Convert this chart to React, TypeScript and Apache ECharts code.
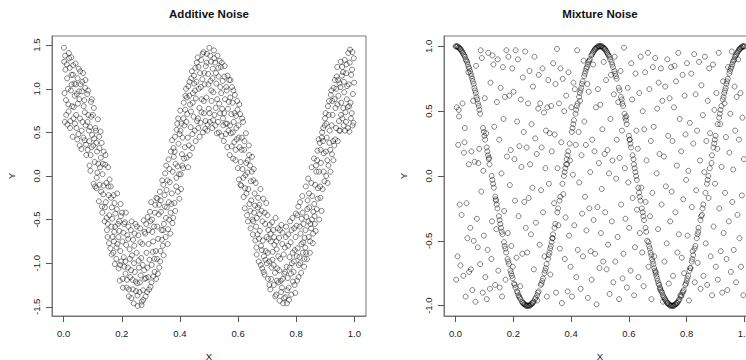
import React, { useEffect, useRef } from "react";
import * as echarts from "echarts";

// Additive noise: observations scattered around a cosine wave
const additivePoints: number[][] = [
  [0.002,1.31],[0.004,0.62],[0.006,1.22],[0.008,0.87],[0.001,1.47],[0.003,0.95],[0.005,1.38],[0.009,0.70],
  [0.011,1.28],[0.013,0.59],[0.015,1.00],[0.017,0.74],[0.019,1.35],[0.012,1.12],[0.016,0.82],[0.018,1.41],
  [0.021,1.24],[0.023,0.63],[0.025,0.98],[0.027,1.16],[0.029,0.80],[0.022,0.55],[0.026,1.36],[0.028,1.05],
  [0.031,0.45],[0.033,1.27],[0.035,0.79],[0.037,1.06],[0.039,0.60],[0.032,1.16],[0.034,0.66],[0.038,0.92],
  [0.041,1.29],[0.043,0.70],[0.045,0.94],[0.047,0.42],[0.048,1.12],[0.042,1.05],[0.044,0.55],[0.049,0.83],
  [0.051,0.48],[0.052,1.23],[0.054,0.88],[0.056,0.66],[0.058,1.05],[0.053,0.97],[0.055,0.35],[0.057,1.20],
  [0.061,0.31],[0.063,0.97],[0.065,0.62],[0.067,1.18],[0.069,0.80],[0.062,0.52],[0.064,1.08],[0.068,0.44],
  [0.071,0.87],[0.072,0.41],[0.074,1.01],[0.076,0.58],[0.078,0.24],[0.073,0.73],[0.075,1.10],[0.077,0.36],
  [0.081,0.94],[0.083,0.30],[0.085,0.70],[0.087,0.52],[0.089,0.12],[0.082,0.62],[0.084,0.98],[0.088,0.40],
  [0.091,0.56],[0.092,0.06],[0.094,0.85],[0.096,0.33],[0.098,0.47],[0.093,0.24],[0.095,0.68],[0.097,0.88],
  [0.101,0.70],[0.103,-0.09],[0.105,0.43],[0.107,0.16],[0.109,0.55],[0.102,0.35],[0.104,0.78],[0.108,-0.12],
  [0.111,0.52],[0.113,-0.14],[0.115,0.28],[0.116,0.04],[0.118,0.65],[0.112,0.38],[0.114,-0.02],[0.119,0.14],
  [0.121,-0.29],[0.123,0.32],[0.125,0.10],[0.127,0.51],[0.129,-0.18],[0.122,0.45],[0.124,-0.10],[0.128,0.21],
  [0.131,0.38],[0.132,-0.35],[0.134,0.02],[0.136,-0.21],[0.138,0.28],[0.133,-0.42],[0.135,0.14],[0.137,-0.11],
  [0.141,-0.52],[0.143,0.13],[0.145,-0.30],[0.147,-0.08],[0.149,-0.62],[0.142,-0.36],[0.144,0.24],[0.148,-0.48],
  [0.151,-0.70],[0.153,0.10],[0.155,-0.22],[0.157,-0.45],[0.158,-0.04],[0.152,-0.55],[0.154,-0.12],[0.156,-0.77],
  [0.161,-0.83],[0.162,-0.12],[0.164,-0.58],[0.166,-0.36],[0.168,-0.70],[0.163,-0.25],[0.165,-0.90],[0.167,-0.49],
  [0.171,-0.88],[0.172,-0.22],[0.174,-0.64],[0.176,-1.01],[0.178,-0.43],[0.173,-0.75],[0.175,-0.31],[0.177,-0.58],
  [0.181,-0.95],[0.183,-0.38],[0.185,-0.78],[0.187,-0.55],[0.189,-1.06],[0.182,-0.82],[0.184,-0.20],[0.188,-0.70],
  [0.191,-0.52],[0.193,-1.20],[0.195,-0.86],[0.196,-0.32],[0.198,-0.98],[0.192,-0.63],[0.194,-1.02],[0.197,-0.46],
  [0.201,-0.42],[0.203,-1.18],[0.205,-0.65],[0.207,-0.93],[0.209,-1.04],[0.202,-0.75],[0.204,-1.28],[0.208,-0.55],
  [0.211,-0.53],[0.213,-1.12],[0.215,-0.79],[0.217,-1.28],[0.219,-0.68],[0.212,-0.98],[0.214,-0.42],[0.218,-1.19],
  [0.221,-1.05],[0.223,-0.58],[0.225,-1.30],[0.227,-0.84],[0.229,-1.16],[0.222,-0.72],[0.224,-1.38],[0.228,-0.95],
  [0.231,-0.62],[0.233,-1.40],[0.235,-0.91],[0.237,-1.19],[0.239,-0.73],[0.232,-1.08],[0.234,-0.52],[0.238,-1.30],
  [0.241,-1.46],[0.243,-0.80],[0.245,-1.10],[0.247,-0.55],[0.249,-1.32],[0.242,-1.00],[0.244,-0.66],[0.248,-1.21],
  [0.251,-0.88],[0.253,-1.23],[0.255,-1.49],[0.257,-0.68],[0.259,-1.05],[0.252,-0.58],[0.254,-1.37],[0.258,-0.97],
  [0.261,-1.33],[0.263,-0.60],[0.265,-1.14],[0.267,-0.94],[0.269,-1.44],[0.262,-1.22],[0.264,-0.76],[0.268,-1.48],
  [0.271,-0.78],[0.273,-1.31],[0.275,-0.51],[0.277,-1.08],[0.279,-1.18],[0.272,-1.02],[0.274,-1.42],[0.278,-0.64],
  [0.281,-0.66],[0.283,-1.17],[0.285,-0.88],[0.287,-1.33],[0.289,-0.47],[0.282,-1.38],[0.284,-0.55],[0.288,-1.05],
  [0.291,-1.16],[0.293,-0.62],[0.295,-0.96],[0.297,-0.41],[0.299,-1.27],[0.292,-0.78],[0.294,-1.30],[0.298,-0.52],
  [0.301,-0.30],[0.303,-1.02],[0.305,-0.64],[0.307,-0.87],[0.309,-1.15],[0.302,-1.22],[0.304,-0.50],[0.308,-0.75],
  [0.311,-0.58],[0.313,-1.10],[0.315,-0.33],[0.317,-0.86],[0.319,-0.25],[0.312,-0.95],[0.314,-0.42],[0.318,-1.18],
  [0.321,-0.95],[0.323,-0.26],[0.325,-0.72],[0.327,-0.44],[0.329,-1.05],[0.322,-0.58],[0.324,-1.12],[0.328,-0.33],
  [0.331,-0.18],[0.333,-0.86],[0.335,-0.41],[0.337,-0.62],[0.339,-0.05],[0.332,-0.98],[0.334,-0.28],[0.338,-0.73],
  [0.341,-0.80],[0.343,-0.10],[0.345,-0.55],[0.347,-0.22],[0.349,0.03],[0.342,-0.62],[0.344,-0.91],[0.348,-0.35],
  [0.351,-0.70],[0.353,0.12],[0.355,-0.36],[0.357,-0.05],[0.359,-0.61],[0.352,-0.48],[0.354,-0.16],[0.358,-0.78],
  [0.361,0.19],[0.363,-0.50],[0.365,-0.07],[0.367,-0.66],[0.369,0.28],[0.362,-0.30],[0.364,0.08],[0.368,-0.42],
  [0.371,-0.32],[0.373,0.41],[0.375,0.05],[0.377,-0.48],[0.379,0.22],[0.372,-0.20],[0.374,-0.54],[0.378,0.32],
  [0.381,-0.31],[0.383,0.45],[0.385,0.14],[0.387,-0.12],[0.389,0.53],[0.382,0.28],[0.384,-0.40],[0.388,-0.02],
  [0.391,0.60],[0.393,-0.18],[0.395,0.37],[0.397,0.02],[0.399,0.48],[0.392,0.11],[0.394,0.66],[0.398,-0.26],
  [0.401,0.75],[0.403,0.02],[0.405,0.60],[0.407,0.25],[0.409,0.44],[0.402,0.52],[0.404,-0.15],[0.408,0.12],
  [0.411,0.09],[0.413,0.84],[0.415,0.58],[0.417,0.33],[0.419,0.92],[0.412,0.66],[0.414,0.20],[0.418,0.76],
  [0.421,1.00],[0.423,0.21],[0.425,0.71],[0.427,0.44],[0.429,1.03],[0.422,0.62],[0.424,0.90],[0.428,0.10],
  [0.431,0.35],[0.433,1.08],[0.435,0.82],[0.437,0.56],[0.439,1.12],[0.432,0.92],[0.434,0.24],[0.438,0.74],
  [0.441,1.20],[0.443,0.48],[0.445,0.95],[0.447,0.68],[0.449,1.06],[0.442,0.32],[0.444,0.84],[0.448,1.15],
  [0.451,0.52],[0.453,1.24],[0.455,0.89],[0.457,1.08],[0.459,0.63],[0.452,0.98],[0.454,0.40],[0.458,1.30],
  [0.461,1.36],[0.463,0.55],[0.465,1.00],[0.467,0.78],[0.469,1.18],[0.462,0.66],[0.464,1.25],[0.468,0.45],
  [0.471,0.61],[0.473,1.33],[0.475,0.88],[0.477,1.11],[0.479,0.50],[0.472,1.02],[0.474,0.73],[0.478,1.40],
  [0.481,1.42],[0.483,0.72],[0.485,1.05],[0.487,0.54],[0.489,1.26],[0.482,0.86],[0.484,1.18],[0.488,0.63],
  [0.491,0.90],[0.493,1.40],[0.495,0.59],[0.497,1.17],[0.499,0.77],[0.492,1.30],[0.494,0.52],[0.498,1.05],
  [0.501,1.47],[0.503,0.62],[0.505,1.09],[0.507,1.31],[0.509,0.86],[0.502,0.72],[0.504,1.38],[0.508,0.98],
  [0.511,0.55],[0.513,1.23],[0.515,0.96],[0.517,1.44],[0.519,0.70],[0.512,1.12],[0.514,0.64],[0.518,1.35],
  [0.521,1.30],[0.523,0.78],[0.525,1.06],[0.527,0.49],[0.529,1.38],[0.522,0.58],[0.524,1.18],[0.528,0.88],
  [0.531,0.62],[0.533,1.14],[0.535,0.83],[0.537,1.32],[0.539,1.02],[0.532,1.24],[0.534,0.50],[0.538,0.72],
  [0.541,1.25],[0.543,0.46],[0.545,0.77],[0.547,1.09],[0.549,0.58],[0.542,0.95],[0.544,1.30],[0.548,0.66],
  [0.551,0.40],[0.553,1.14],[0.555,0.88],[0.557,0.60],[0.559,1.02],[0.552,0.72],[0.554,1.26],[0.558,0.48],
  [0.561,0.98],[0.563,0.33],[0.565,0.77],[0.567,0.52],[0.569,1.10],[0.562,0.60],[0.564,1.15],[0.568,0.85],
  [0.571,0.24],[0.573,0.90],[0.575,0.49],[0.577,0.71],[0.579,1.02],[0.572,0.58],[0.574,1.10],[0.578,0.34],
  [0.581,0.84],[0.583,0.20],[0.585,0.62],[0.587,0.39],[0.589,0.93],[0.582,0.50],[0.584,0.98],[0.588,0.72],
  [0.591,0.18],[0.593,0.69],[0.595,0.42],[0.597,0.86],[0.599,0.09],[0.592,0.30],[0.594,0.55],[0.598,0.76],
  [0.601,0.58],[0.603,-0.04],[0.605,0.33],[0.607,0.71],[0.609,0.16],[0.602,0.44],[0.604,0.82],[0.608,-0.10],
  [0.611,-0.11],[0.613,0.44],[0.615,0.08],[0.617,0.62],[0.619,-0.24],[0.612,0.30],[0.614,0.66],[0.618,-0.02],
  [0.621,0.30],[0.623,-0.37],[0.625,0.01],[0.627,0.49],[0.629,-0.20],[0.622,0.40],[0.624,-0.14],[0.628,0.15],
  [0.631,-0.45],[0.633,0.18],[0.635,-0.15],[0.637,0.35],[0.639,-0.32],[0.632,0.04],[0.634,-0.52],[0.638,0.24],
  [0.641,0.12],[0.643,-0.60],[0.645,-0.28],[0.647,0.05],[0.649,-0.50],[0.642,-0.40],[0.644,-0.06],[0.648,0.22],
  [0.651,-0.67],[0.653,-0.05],[0.655,-0.42],[0.657,-0.20],[0.659,-0.74],[0.652,-0.52],[0.654,0.08],[0.658,-0.34],
  [0.661,-0.08],[0.663,-0.82],[0.665,-0.48],[0.667,-0.67],[0.669,-0.25],[0.662,-0.58],[0.664,-0.90],[0.668,-0.36],
  [0.671,-0.98],[0.673,-0.33],[0.675,-0.63],[0.677,-0.15],[0.679,-0.80],[0.672,-0.72],[0.674,-0.44],[0.678,-1.02],
  [0.681,-0.40],[0.683,-1.06],[0.685,-0.74],[0.687,-0.26],[0.689,-0.92],[0.682,-0.85],[0.684,-0.52],[0.688,-1.10],
  [0.691,-1.13],[0.693,-0.55],[0.695,-0.86],[0.697,-0.31],[0.699,-1.00],[0.692,-0.42],[0.694,-0.96],[0.698,-0.70],
  [0.701,-0.45],[0.703,-1.18],[0.705,-0.72],[0.707,-0.98],[0.709,-0.56],[0.702,-0.88],[0.704,-0.62],[0.708,-1.25],
  [0.711,-1.30],[0.713,-0.75],[0.715,-1.05],[0.717,-0.53],[0.719,-0.87],[0.712,-0.66],[0.714,-1.18],[0.718,-0.96],
  [0.721,-0.62],[0.723,-1.25],[0.725,-0.79],[0.727,-1.11],[0.729,-0.48],[0.722,-1.02],[0.724,-0.70],[0.728,-1.38],
  [0.731,-1.36],[0.733,-0.84],[0.735,-1.06],[0.737,-0.60],[0.739,-1.22],[0.732,-0.75],[0.734,-1.20],[0.738,-0.92],
  [0.741,-0.71],[0.743,-1.43],[0.745,-0.95],[0.747,-1.20],[0.749,-0.56],[0.742,-1.08],[0.744,-0.62],[0.748,-1.33],
  [0.751,-1.28],[0.753,-0.65],[0.755,-1.46],[0.757,-0.90],[0.759,-1.12],[0.752,-0.78],[0.754,-1.18],[0.758,-1.40],
  [0.761,-0.82],[0.763,-1.39],[0.765,-0.58],[0.767,-1.04],[0.769,-1.31],[0.762,-1.10],[0.764,-0.70],[0.768,-1.46],
  [0.771,-1.17],[0.773,-0.67],[0.775,-1.42],[0.777,-0.93],[0.779,-0.52],[0.772,-0.80],[0.774,-1.28],[0.778,-1.05],
  [0.781,-0.76],[0.783,-1.36],[0.785,-1.00],[0.787,-0.48],[0.789,-1.21],[0.782,-1.12],[0.784,-0.62],[0.788,-0.88],
  [0.791,-1.10],[0.793,-0.60],[0.795,-0.85],[0.797,-1.34],[0.799,-0.43],[0.792,-0.98],[0.794,-1.25],[0.798,-0.70],
  [0.801,-0.57],[0.803,-1.20],[0.805,-0.83],[0.807,-0.35],[0.809,-1.02],[0.802,-0.92],[0.804,-0.45],[0.808,-1.16],
  [0.811,-0.93],[0.813,-0.30],[0.815,-0.66],[0.817,-1.11],[0.819,-0.49],[0.812,-0.58],[0.814,-1.00],[0.818,-0.78],
  [0.821,-0.23],[0.823,-0.88],[0.825,-0.55],[0.827,-1.04],[0.829,-0.71],[0.822,-0.42],[0.824,-0.76],[0.828,-0.95],
  [0.831,-0.82],[0.833,-0.12],[0.835,-0.47],[0.837,-0.95],[0.839,-0.28],[0.832,-0.62],[0.834,-0.88],[0.838,-0.38],
  [0.841,-0.03],[0.843,-0.70],[0.845,-0.36],[0.847,-0.88],[0.849,-0.55],[0.842,-0.52],[0.844,-0.20],[0.848,-0.75],
  [0.851,-0.60],[0.853,0.10],[0.855,-0.23],[0.857,-0.77],[0.859,-0.41],[0.852,-0.08],[0.854,-0.50],[0.858,-0.66],
  [0.861,0.20],[0.863,-0.46],[0.865,-0.10],[0.867,-0.63],[0.869,0.05],[0.862,-0.32],[0.864,-0.55],[0.868,0.12],
  [0.871,-0.38],[0.873,0.29],[0.875,-0.14],[0.877,0.42],[0.879,-0.50],[0.872,0.18],[0.874,-0.26],[0.878,0.05],
  [0.881,0.38],[0.883,-0.25],[0.885,0.15],[0.887,-0.40],[0.889,0.50],[0.882,-0.12],[0.884,0.30],[0.888,0.44],
  [0.891,-0.15],[0.893,0.55],[0.895,0.26],[0.897,-0.06],[0.899,0.66],[0.892,0.40],[0.894,0.05],[0.898,0.58],
  [0.901,0.72],[0.903,0.00],[0.905,0.44],[0.907,0.18],[0.909,0.80],[0.902,0.28],[0.904,0.60],[0.908,-0.08],
  [0.911,0.12],[0.913,0.86],[0.915,0.52],[0.917,0.30],[0.919,0.93],[0.912,0.70],[0.914,0.38],[0.918,0.05],
  [0.921,0.98],[0.923,0.25],[0.925,0.70],[0.927,0.40],[0.929,1.01],[0.922,0.58],[0.924,0.86],[0.928,0.18],
  [0.931,0.35],[0.933,1.10],[0.935,0.78],[0.937,0.55],[0.939,1.14],[0.932,0.88],[0.934,0.42],[0.938,1.00],
  [0.941,1.25],[0.943,0.40],[0.945,0.92],[0.947,0.63],[0.949,1.06],[0.942,0.82],[0.944,1.10],[0.948,0.52],
  [0.951,0.52],[0.953,1.31],[0.955,0.84],[0.957,1.15],[0.959,0.66],[0.952,1.02],[0.954,0.70],[0.958,1.25],
  [0.961,1.19],[0.963,0.58],[0.965,0.96],[0.967,1.33],[0.969,0.73],[0.962,0.78],[0.964,1.08],[0.968,0.52],
  [0.971,0.62],[0.973,1.28],[0.975,1.03],[0.977,0.79],[0.979,1.41],[0.972,1.18],[0.974,0.88],[0.978,0.55],
  [0.981,1.05],[0.983,0.51],[0.985,1.45],[0.987,0.84],[0.989,1.16],[0.982,0.80],[0.984,1.30],[0.988,0.66],
  [0.991,0.72],[0.993,1.42],[0.995,0.94],[0.997,0.61],[0.999,1.07],[0.992,1.22],[0.994,0.58],[0.998,1.35],
];

// Mixture noise, part 1: observations lying exactly on the wave
const mixtureCurvePoints: number[][] = [
  [0,1.00],[0.0025,1.00],[0.005,1.00],[0.0075,1.00],[0.01,0.99],[0.0125,0.99],[0.015,0.98],[0.0175,0.98],
  [0.02,0.97],[0.0225,0.96],[0.025,0.95],[0.0275,0.94],[0.03,0.93],[0.0325,0.92],[0.035,0.90],[0.0375,0.89],
  [0.04,0.88],[0.0425,0.86],[0.045,0.84],[0.0475,0.83],[0.05,0.81],[0.0525,0.79],[0.055,0.77],[0.0575,0.75],
  [0.06,0.73],[0.0625,0.71],[0.065,0.68],[0.0675,0.66],[0.07,0.64],[0.0725,0.61],[0.075,0.59],[0.0775,0.56],
  [0.08,0.54],[0.0825,0.51],[0.085,0.48],[0.095,0.37],[0.0975,0.34],[0.1,0.31],[0.1025,0.28],[0.1075,0.22],
  [0.11,0.19],[0.1125,0.16],[0.115,0.13],[0.1175,0.09],[0.125,0.00],[0.1275,-0.03],[0.13,-0.06],[0.1325,-0.09],
  [0.1375,-0.16],[0.14,-0.19],[0.1425,-0.22],[0.145,-0.25],[0.15,-0.31],[0.1525,-0.34],[0.155,-0.37],[0.1575,-0.40],
  [0.16,-0.43],[0.1625,-0.45],[0.1675,-0.51],[0.17,-0.54],[0.1725,-0.56],[0.175,-0.59],[0.18,-0.64],[0.1825,-0.66],
  [0.185,-0.68],[0.19,-0.73],[0.1925,-0.75],[0.195,-0.77],[0.1975,-0.79],[0.2025,-0.83],[0.205,-0.84],[0.2075,-0.86],
  [0.2125,-0.89],[0.215,-0.90],[0.2175,-0.92],[0.22,-0.93],[0.2225,-0.94],[0.225,-0.95],[0.23,-0.97],[0.2325,-0.98],
  [0.235,-0.98],[0.2375,-0.99],[0.24,-0.99],[0.2425,-1.00],[0.245,-1.00],[0.2475,-1.00],[0.25,-1.00],[0.2525,-1.00],
  [0.255,-1.00],[0.2575,-1.00],[0.26,-0.99],[0.2625,-0.99],[0.265,-0.98],[0.2675,-0.98],[0.27,-0.97],[0.275,-0.95],
  [0.2775,-0.94],[0.2825,-0.92],[0.285,-0.90],[0.2875,-0.89],[0.295,-0.84],[0.2975,-0.83],[0.3,-0.81],[0.3025,-0.79],
  [0.3075,-0.75],[0.31,-0.73],[0.3125,-0.71],[0.315,-0.68],[0.32,-0.64],[0.3225,-0.61],[0.325,-0.59],[0.3275,-0.56],
  [0.33,-0.54],[0.3325,-0.51],[0.335,-0.48],[0.3375,-0.45],[0.3425,-0.40],[0.345,-0.37],[0.3525,-0.28],[0.355,-0.25],
  [0.36,-0.19],[0.3625,-0.16],[0.37,-0.06],[0.375,0.00],[0.3775,0.03],[0.38,0.06],[0.3825,0.09],[0.385,0.13],
  [0.3875,0.16],[0.39,0.19],[0.395,0.25],[0.4025,0.34],[0.405,0.37],[0.4075,0.40],[0.41,0.43],[0.415,0.48],
  [0.4175,0.51],[0.42,0.54],[0.4225,0.56],[0.4275,0.61],[0.43,0.64],[0.4325,0.66],[0.435,0.68],[0.4375,0.71],
  [0.44,0.73],[0.445,0.77],[0.4475,0.79],[0.45,0.81],[0.4525,0.83],[0.455,0.84],[0.4575,0.86],[0.46,0.88],
  [0.4625,0.89],[0.465,0.90],[0.47,0.93],[0.4725,0.94],[0.475,0.95],[0.4775,0.96],[0.48,0.97],[0.4825,0.98],
  [0.485,0.98],[0.4875,0.99],[0.49,0.99],[0.4925,1.00],[0.495,1.00],[0.4975,1.00],[0.5,1.00],[0.5025,1.00],
  [0.505,1.00],[0.5075,1.00],[0.51,0.99],[0.5125,0.99],[0.515,0.98],[0.5175,0.98],[0.52,0.97],[0.5225,0.96],
  [0.525,0.95],[0.5275,0.94],[0.53,0.93],[0.5325,0.92],[0.535,0.90],[0.54,0.88],[0.5425,0.86],[0.545,0.84],
  [0.55,0.81],[0.5525,0.79],[0.555,0.77],[0.5575,0.75],[0.565,0.68],[0.5675,0.66],[0.5725,0.61],[0.575,0.59],
  [0.5775,0.56],[0.58,0.54],[0.585,0.48],[0.5875,0.45],[0.59,0.43],[0.5925,0.40],[0.6,0.31],[0.6025,0.28],
  [0.605,0.25],[0.6075,0.22],[0.6125,0.16],[0.6175,0.09],[0.62,0.06],[0.6225,0.03],[0.625,0.00],[0.6275,-0.03],
  [0.6325,-0.09],[0.635,-0.13],[0.6375,-0.16],[0.64,-0.19],[0.645,-0.25],[0.6475,-0.28],[0.65,-0.31],[0.6525,-0.34],
  [0.6575,-0.40],[0.66,-0.43],[0.6675,-0.51],[0.67,-0.54],[0.6725,-0.56],[0.675,-0.59],[0.6775,-0.61],[0.68,-0.64],
  [0.6825,-0.66],[0.685,-0.68],[0.6875,-0.71],[0.69,-0.73],[0.6925,-0.75],[0.695,-0.77],[0.6975,-0.79],[0.7,-0.81],
  [0.7025,-0.83],[0.705,-0.84],[0.7075,-0.86],[0.71,-0.88],[0.7125,-0.89],[0.715,-0.90],[0.7175,-0.92],[0.72,-0.93],
  [0.7225,-0.94],[0.725,-0.95],[0.7275,-0.96],[0.73,-0.97],[0.7325,-0.98],[0.735,-0.98],[0.7375,-0.99],[0.74,-0.99],
  [0.7425,-1.00],[0.745,-1.00],[0.7475,-1.00],[0.75,-1.00],[0.7525,-1.00],[0.755,-1.00],[0.7575,-1.00],[0.76,-0.99],
  [0.7625,-0.99],[0.765,-0.98],[0.7675,-0.98],[0.77,-0.97],[0.7725,-0.96],[0.775,-0.95],[0.78,-0.93],[0.7825,-0.92],
  [0.785,-0.90],[0.7875,-0.89],[0.79,-0.88],[0.795,-0.84],[0.7975,-0.83],[0.8,-0.81],[0.8025,-0.79],[0.805,-0.77],
  [0.81,-0.73],[0.8125,-0.71],[0.8175,-0.66],[0.82,-0.64],[0.8225,-0.61],[0.8275,-0.56],[0.83,-0.54],[0.835,-0.48],
  [0.8375,-0.45],[0.84,-0.43],[0.8475,-0.34],[0.85,-0.31],[0.855,-0.25],[0.8575,-0.22],[0.865,-0.13],[0.87,-0.06],
  [0.8725,-0.03],[0.875,0.00],[0.88,0.06],[0.8875,0.16],[0.8925,0.22],[0.895,0.25],[0.8975,0.28],[0.9,0.31],
  [0.9075,0.40],[0.9125,0.45],[0.915,0.48],[0.9175,0.51],[0.92,0.54],[0.925,0.59],[0.9275,0.61],[0.93,0.64],
  [0.9325,0.66],[0.935,0.68],[0.9375,0.71],[0.94,0.73],[0.9425,0.75],[0.9475,0.79],[0.95,0.81],[0.9525,0.83],
  [0.955,0.84],[0.9575,0.86],[0.96,0.88],[0.9625,0.89],[0.965,0.90],[0.9675,0.92],[0.97,0.93],[0.9725,0.94],
  [0.975,0.95],[0.9775,0.96],[0.98,0.97],[0.9825,0.98],[0.985,0.98],[0.9875,0.99],[0.99,0.99],[0.9925,1.00],
  [0.995,1.00],[0.9975,1.00],[1,1.00],
];

// Mixture noise, part 2: observations spread over the whole square
const mixtureUniformPoints: number[][] = [
  [0.004,0.53],[0.007,-0.62],[0.002,-0.80],[0.009,0.24],[0.012,0.46],[0.014,-0.22],[0.017,-0.69],[0.011,0.51],
  [0.021,-0.30],[0.024,0.56],[0.027,-0.77],[0.029,0.18],[0.032,0.37],[0.035,-0.93],[0.038,-0.21],[0.031,0.26],
  [0.041,-0.48],[0.044,0.80],[0.047,-0.74],[0.046,0.09],[0.051,-0.40],[0.055,0.19],[0.058,-0.88],[0.053,-0.72],
  [0.061,0.58],[0.063,-0.50],[0.066,0.11],[0.069,-0.97],[0.071,0.85],[0.074,-0.33],[0.077,-0.55],[0.079,0.10],
  [0.082,0.21],[0.085,-0.68],[0.087,0.97],[0.089,-0.12],[0.091,0.91],[0.094,-0.90],[0.096,0.04],[0.098,-0.46],
  [0.101,0.60],[0.103,-0.78],[0.106,0.33],[0.108,-0.95],[0.111,-0.57],[0.113,0.95],[0.116,0.14],[0.119,-0.87],
  [0.121,0.72],[0.124,-0.64],[0.126,-0.35],[0.128,0.93],[0.131,0.86],[0.134,0.38],[0.137,-0.84],[0.139,-0.18],
  [0.141,-0.41],[0.143,0.57],[0.146,0.90],[0.148,-0.73],[0.151,0.28],[0.153,-0.86],[0.156,0.68],[0.159,0.02],
  [0.161,-0.93],[0.164,0.84],[0.166,0.44],[0.168,-0.27],[0.171,0.61],[0.173,-0.80],[0.176,0.97],[0.178,0.15],
  [0.181,-0.44],[0.183,0.92],[0.186,0.62],[0.188,-0.07],[0.191,0.20],[0.193,-0.54],[0.196,0.83],[0.198,-0.70],
  [0.201,0.65],[0.204,0.13],[0.206,-0.19],[0.208,0.97],[0.211,-0.63],[0.213,0.42],[0.216,0.90],[0.218,-0.31],
  [0.221,0.23],[0.224,-0.85],[0.226,0.59],[0.228,0.07],[0.231,-0.60],[0.233,0.76],[0.236,0.34],[0.238,-0.20],
  [0.241,0.96],[0.243,-0.40],[0.246,0.22],[0.248,-0.59],[0.251,0.56],[0.253,-0.17],[0.256,0.81],[0.258,0.09],
  [0.261,-0.45],[0.263,0.40],[0.266,-0.09],[0.268,0.69],[0.271,-0.72],[0.273,0.92],[0.276,0.29],[0.278,-0.36],
  [0.281,0.17],[0.283,-0.96],[0.286,0.52],[0.288,0.78],[0.291,-0.53],[0.293,0.56],[0.296,-0.11],[0.298,0.22],
  [0.301,0.83],[0.303,-0.28],[0.306,0.49],[0.308,-0.62],[0.311,0.06],[0.313,0.35],[0.316,-0.93],[0.318,0.53],
  [0.321,0.74],[0.323,-0.06],[0.326,0.33],[0.328,-0.76],[0.331,0.54],[0.333,0.19],[0.336,-0.48],[0.338,0.87],
  [0.341,-0.21],[0.343,0.32],[0.346,0.71],[0.348,-0.90],[0.351,0.98],[0.353,0.06],[0.356,-0.38],[0.358,0.56],
  [0.361,-0.56],[0.363,0.83],[0.366,0.26],[0.368,-0.98],[0.371,0.75],[0.373,-0.14],[0.376,0.50],[0.378,-0.64],
  [0.381,-0.32],[0.383,0.62],[0.386,0.09],[0.388,-0.89],[0.391,0.80],[0.393,-0.46],[0.396,0.12],[0.398,-0.70],
  [0.401,0.53],[0.403,-0.93],[0.406,0.01],[0.408,0.72],[0.411,-0.38],[0.413,0.67],[0.416,0.24],[0.418,-0.78],
  [0.421,0.97],[0.423,-0.57],[0.426,0.34],[0.428,-0.05],[0.431,0.58],[0.433,-0.87],[0.436,0.16],[0.438,-0.29],
  [0.441,-0.62],[0.443,0.89],[0.446,0.42],[0.448,-0.16],[0.451,0.24],[0.453,-0.42],[0.456,0.71],[0.458,-0.94],
  [0.461,0.65],[0.463,-0.25],[0.466,0.03],[0.468,-0.58],[0.471,-0.80],[0.473,0.28],[0.476,0.86],[0.478,-0.34],
  [0.481,0.19],[0.483,-0.60],[0.486,0.53],[0.488,-0.99],[0.491,-0.24],[0.493,0.67],[0.496,0.10],[0.498,-0.71],
  [0.501,0.55],[0.503,-0.44],[0.506,-0.10],[0.508,0.36],[0.511,-0.66],[0.513,0.88],[0.516,0.17],[0.518,-0.28],
  [0.521,0.74],[0.523,-0.72],[0.526,0.20],[0.528,-0.53],[0.531,0.02],[0.533,-0.91],[0.536,0.44],[0.538,0.78],
  [0.541,-0.35],[0.543,0.12],[0.546,-0.82],[0.548,0.63],[0.551,0.92],[0.553,-0.66],[0.556,-0.02],[0.558,0.28],
  [0.561,-0.47],[0.563,0.57],[0.566,-0.95],[0.568,0.14],[0.571,0.81],[0.573,-0.22],[0.576,0.35],[0.578,-0.79],
  [0.581,-0.60],[0.583,0.99],[0.586,0.06],[0.588,-0.33],[0.591,0.46],[0.593,-0.86],[0.596,0.68],[0.598,-0.05],
  [0.601,-0.40],[0.603,0.28],[0.606,-0.73],[0.608,0.87],[0.611,0.59],[0.613,-0.17],[0.616,0.13],[0.618,-0.92],
  [0.621,-0.55],[0.623,0.79],[0.626,0.35],[0.628,-0.26],[0.631,0.21],[0.633,-0.78],[0.636,0.64],[0.638,-0.44],
  [0.641,0.92],[0.643,-0.09],[0.646,-0.59],[0.648,0.50],[0.651,-0.85],[0.653,0.36],[0.656,0.80],[0.658,-0.20],
  [0.661,0.12],[0.663,-0.50],[0.666,0.95],[0.668,-0.70],[0.671,0.67],[0.673,-0.31],[0.676,0.27],[0.678,-0.95],
  [0.681,-0.13],[0.683,0.84],[0.686,0.38],[0.688,-0.62],[0.691,0.91],[0.693,-0.74],[0.696,0.02],[0.698,0.52],
  [0.701,-0.41],[0.703,0.72],[0.706,0.17],[0.708,-0.87],[0.711,0.83],[0.713,-0.22],[0.716,0.58],[0.718,-0.97],
  [0.721,0.15],[0.723,-0.66],[0.726,0.69],[0.728,-0.08],[0.731,-0.52],[0.733,0.90],[0.736,0.31],[0.738,-0.83],
  [0.741,0.60],[0.743,-0.35],[0.746,0.84],[0.748,-0.12],[0.751,0.27],[0.753,-0.77],[0.756,0.53],[0.758,0.85],
  [0.761,-0.28],[0.763,0.73],[0.766,0.08],[0.768,-0.59],[0.771,0.95],[0.773,-0.45],[0.776,0.44],[0.778,-0.92],
  [0.781,0.19],[0.783,-0.63],[0.786,0.78],[0.788,-0.18],[0.791,-0.75],[0.793,0.62],[0.796,0.32],[0.798,-0.03],
  [0.801,0.87],[0.803,-0.46],[0.806,0.04],[0.808,-0.96],[0.811,0.41],[0.813,-0.71],[0.816,0.79],[0.818,-0.24],
  [0.821,-0.58],[0.823,0.25],[0.826,0.94],[0.828,-0.82],[0.831,0.63],[0.833,-0.11],[0.836,0.35],[0.838,-0.67],
  [0.841,-0.40],[0.843,0.88],[0.846,0.12],[0.848,-0.87],[0.851,0.70],[0.853,-0.30],[0.856,0.47],[0.858,-0.77],
  [0.861,0.03],[0.863,0.92],[0.866,-0.52],[0.868,0.27],[0.871,-0.84],[0.873,0.58],[0.876,-0.17],[0.878,0.83],
  [0.881,0.33],[0.883,-0.62],[0.886,0.10],[0.888,-0.92],[0.891,0.86],[0.893,-0.39],[0.896,0.51],[0.898,-0.06],
  [0.901,-0.70],[0.903,0.64],[0.906,0.21],[0.908,-0.80],[0.911,0.95],[0.913,-0.25],[0.916,0.40],[0.918,-0.58],
  [0.921,0.07],[0.923,-0.90],[0.926,0.73],[0.928,-0.44],[0.931,0.56],[0.933,-0.13],[0.936,0.30],[0.938,-0.64],
  [0.941,-0.88],[0.943,0.84],[0.946,-0.35],[0.948,0.18],[0.951,0.48],[0.953,-0.74],[0.956,0.96],[0.958,-0.20],
  [0.961,0.05],[0.963,-0.57],[0.966,0.69],[0.968,0.35],[0.971,-0.82],[0.973,0.61],[0.976,-0.30],[0.978,0.90],
  [0.981,0.28],[0.983,-0.48],[0.986,0.64],[0.988,-0.70],[0.991,-0.15],[0.993,0.45],[0.996,-0.92],[0.998,0.13],
];

// Tick positions shared by the axes
const xTicks = [0, 0.2, 0.4, 0.6, 0.8, 1.0];
const yTicksAdditive = [-1.5, -1.0, -0.5, 0, 0.5, 1.0, 1.5];
const yTicksMixture = [-1.0, -0.5, 0, 0.5, 1.0];

const panelTitles = ["Additive Noise", "Mixture Noise"];

const FONT = "'Liberation Sans', Arial, Helvetica, sans-serif";
const INK = "#222";
const FRAME = "#777";

// Plot regions (pixels) for the two panels; the right one runs past the page edge
const PANELS = [
  { left: 52, top: 36, width: 314, height: 280 },
  { left: 444, top: 36, width: 312, height: 280 },
];

function xAxisFor(gridIndex: number) {
  return {
    type: "value" as const,
    gridIndex,
    position: "bottom" as const,
    min: -0.04,
    max: 1.04,
    name: "X",
    nameLocation: "middle" as const,
    nameGap: 35,
    nameTextStyle: { fontFamily: FONT, fontSize: 9.6, color: INK },
    axisLine: { show: true, onZero: false, lineStyle: { color: FRAME, width: 1 } },
    splitLine: { show: false },
    axisTick: {
      show: true,
      inside: false,
      length: 6,
      customValues: xTicks,
      lineStyle: { color: "#555", width: 1 },
    },
    axisLabel: {
      show: true,
      margin: 12,
      customValues: xTicks,
      formatter: (v: number) => v.toFixed(1),
      fontFamily: FONT,
      fontSize: 9.5,
      color: INK,
    },
  };
}

function yAxisFor(gridIndex: number, ticks: number[], lim: number) {
  return {
    type: "value" as const,
    gridIndex,
    position: "left" as const,
    min: -lim,
    max: lim,
    name: "Y",
    nameLocation: "middle" as const,
    nameRotate: 90,
    nameGap: 35.5,
    nameTextStyle: { fontFamily: FONT, fontSize: 9.6, color: INK },
    axisLine: { show: true, onZero: false, lineStyle: { color: FRAME, width: 1 } },
    splitLine: { show: false },
    axisTick: {
      show: true,
      inside: false,
      length: 6,
      customValues: ticks,
      lineStyle: { color: "#555", width: 1 },
    },
    axisLabel: {
      show: true,
      rotate: 90,
      margin: 11,
      customValues: ticks,
      formatter: (v: number) => v.toFixed(1),
      fontFamily: FONT,
      fontSize: 9.5,
      color: INK,
    },
  };
}

const circleStyle = {
  color: "rgba(0,0,0,0)",
  borderColor: "rgba(0,0,0,0.6)",
  borderWidth: 1,
};

function scatter(data: number[][], idx: number) {
  return {
    type: "scatter" as const,
    xAxisIndex: idx,
    yAxisIndex: idx,
    data,
    symbol: "circle",
    symbolSize: 5,
    itemStyle: circleStyle,
    silent: true,
    progressive: 0,
    large: false,
  };
}

export default function App() {
  const ref = useRef<HTMLDivElement>(null);

  useEffect(() => {
    if (!ref.current) return;
    const chart = echarts.init(ref.current, undefined, { renderer: "svg" });
    chart.setOption({
      animation: false,
      backgroundColor: "#ffffff",
      grid: PANELS.map((p) => ({
        left: p.left,
        top: p.top,
        width: p.width,
        height: p.height,
        show: true,
        borderColor: FRAME,
        borderWidth: 1,
        backgroundColor: "transparent",
        containLabel: false,
        outerBoundsMode: "none",
      })),
      xAxis: [xAxisFor(0), xAxisFor(1)],
      yAxis: [yAxisFor(0, yTicksAdditive, 1.605), yAxisFor(1, yTicksMixture, 1.08)],
      series: [
        scatter(additivePoints, 0),
        scatter(mixtureUniformPoints, 1),
        scatter(mixtureCurvePoints, 1),
      ],
      graphic: PANELS.map((p, i) => ({
        type: "text",
        x: p.left + p.width / 2,
        y: 14,
        silent: true,
        style: {
          text: panelTitles[i],
          align: "center",
          verticalAlign: "middle",
          fontFamily: FONT,
          fontSize: 11.5,
          fontWeight: "bold",
          fill: "#111",
        },
      })),
    });
    return () => chart.dispose();
  }, []);

  return (
    <div style={{ position: "fixed", left: 0, top: 0, width: 746, height: 360, overflow: "hidden", background: "#fff" }}>
      <div ref={ref} style={{ width: 746, height: 360 }} />
    </div>
  );
}
